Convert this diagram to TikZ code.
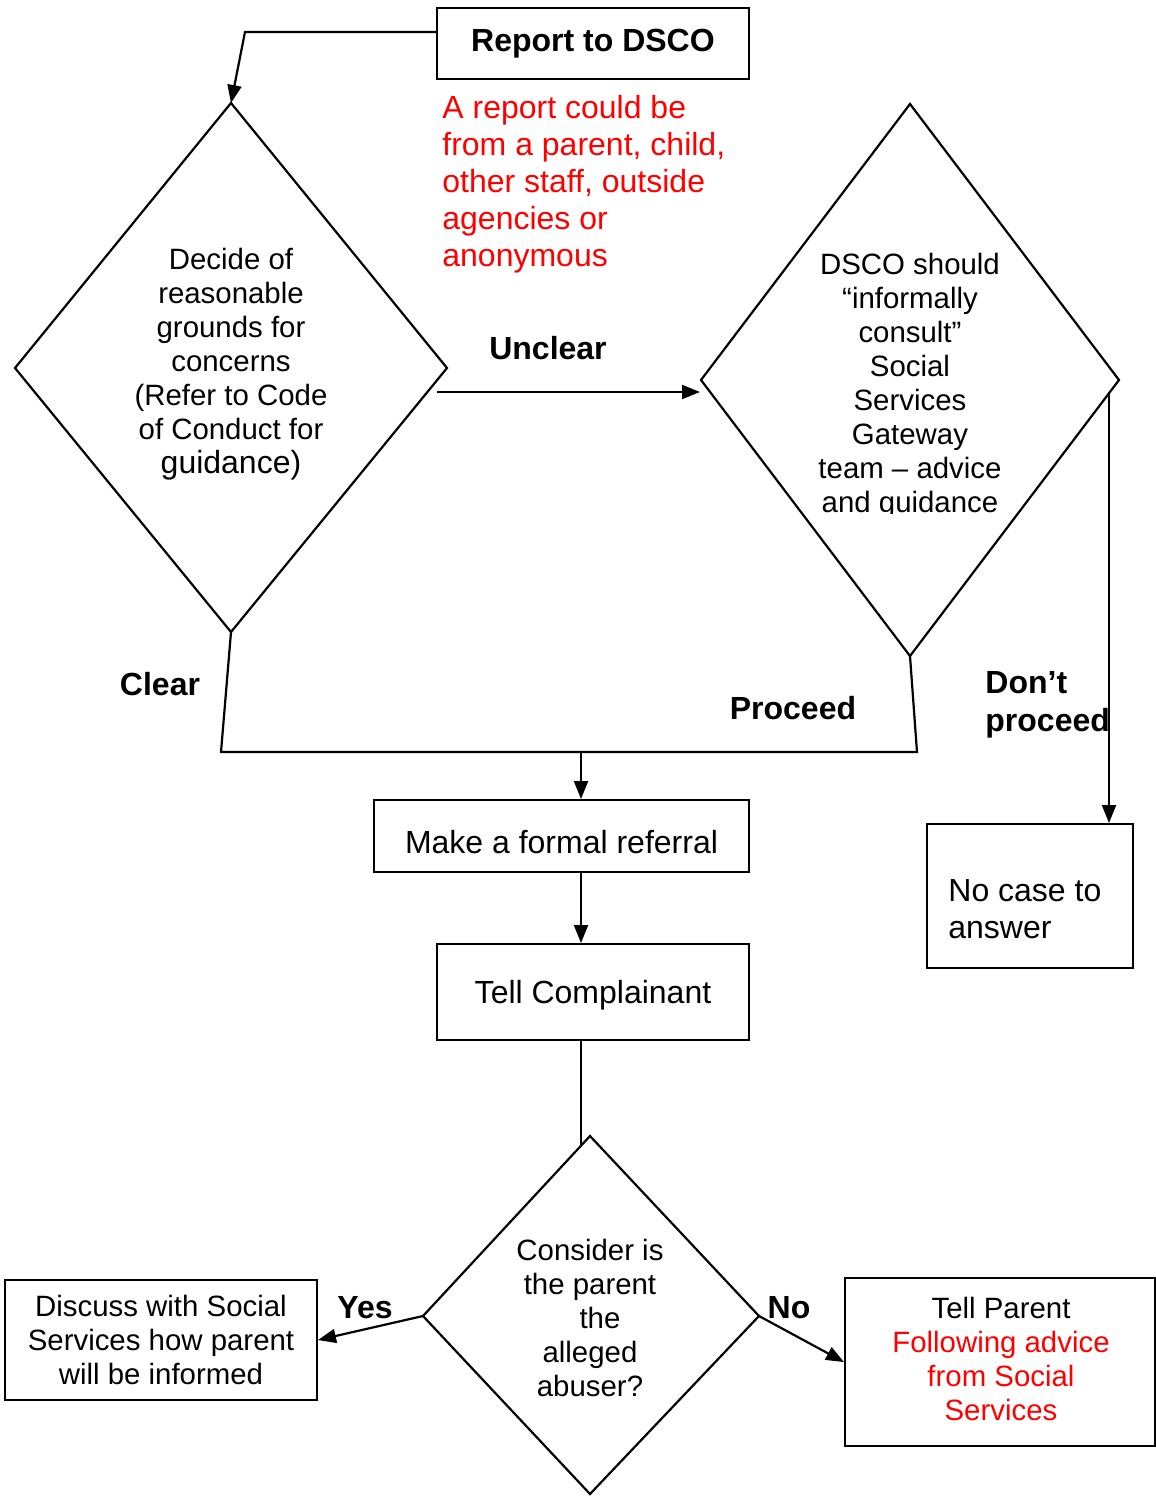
\documentclass[tikz,border=0pt]{standalone}
\usepackage{fontspec}
\setmainfont{Liberation Sans}
\usetikzlibrary{arrows.meta}
\definecolor{redtxt}{RGB}{255,0,0}
\tikzset{
  conn/.style={line width=1.1pt},
  arr/.style={conn,-{Triangle[length=9pt,width=7pt]}},
  boxn/.style={draw,line width=1pt,inner sep=0pt,align=center,font=\fontsize{16}{17}\selectfont},
  small/.style={font=\fontsize{14.7}{17}\selectfont},
  body/.style={inner sep=0pt,align=center,font=\fontsize{14.7}{17}\selectfont},
  lbl/.style={inner sep=0pt,align=left,font=\fontsize{16}{19}\selectfont\bfseries},
  redn/.style={inner sep=0pt,align=left,text=redtxt,font=\fontsize{16}{18.5}\selectfont}
}
\begin{document}
\begin{tikzpicture}[x=0.5pt,y=-0.5pt]
\useasboundingbox (0,0) rectangle (1156,1496);
% boxes
\node[boxn,minimum width=156pt,minimum height=35.5pt] (report) at (593,43.5) {\bfseries Report to DSCO};
\node[boxn,minimum width=187.5pt,minimum height=36pt,text height=18pt,text depth=0.6pt] (referral) at (561.5,836) {Make a formal referral};
\node[boxn,minimum width=156pt,minimum height=48pt,text height=12pt,text depth=0.6pt] (tell) at (593,992) {Tell Complainant};
\node[draw,line width=1pt,minimum width=103pt,minimum height=72pt,inner sep=0pt] (nocase) at (1030,896) {};
\node[inner sep=0pt,align=left,anchor=west,font=\fontsize{16}{18.5}\selectfont] (nocasetxt) at (948,909) {No case to\\answer};
\node[boxn,small,minimum width=156pt,minimum height=60pt] (discuss) at (161,1340) {Discuss with Social\\Services how parent\\will be informed};
\node[boxn,small,minimum width=155pt,minimum height=84pt] (parent) at (1000,1362) {};
\node[body] (parenttxt) at (1001,1359) {Tell Parent\\\textcolor{redtxt}{Following advice}\\\textcolor{redtxt}{from Social}\\\textcolor{redtxt}{Services}};
% diamonds
\coordinate (ltop) at (231,103);
\coordinate (lleft) at (15,368);
\coordinate (lright) at (447,368);
\coordinate (lbot) at (231,632);
\draw[conn] (ltop) -- (lright) -- (lbot) -- (lleft) -- cycle;
\node[body] (ltxt) at (231,364) {Decide of\\reasonable\\grounds for\\concerns\\(Refer to Code\\of Conduct for\\{\fontsize{16}{17}\selectfont guidance)}};
\coordinate (rtop) at (910,104);
\coordinate (rleft) at (701,380);
\coordinate (rright) at (1119,380);
\coordinate (rbot) at (910,656);
\draw[conn] (rtop) -- (rright) -- (rbot) -- (rleft) -- cycle;
\begin{scope}
\clip (700,230) rectangle (1120,513);
\node[body] (rtxt) at (910,386) {DSCO should\\“informally\\consult”\\Social\\Services\\Gateway\\team – advice\\and guidance};
\end{scope}
\coordinate (btop) at (590,1136);
\coordinate (bleft) at (423,1316);
\coordinate (bright) at (759,1316);
\coordinate (bbot) at (590,1494);
\draw[conn] (btop) -- (bright) -- (bbot) -- (bleft) -- cycle;
\node[body] (btxt) at (590,1318) {Consider is\\the parent\\\hspace*{10pt}the\\alleged\\abuser?};
% red note
\node[redn,anchor=north west] (note) at (442,95) {A report could be\\from a parent, child,\\other staff, outside\\agencies or\\anonymous};
% labels
\node[lbl] (unclear) at (548,348) {Unclear};
\node[lbl] (clear) at (160,684) {Clear};
\node[lbl] (proceed) at (793,708) {Proceed};
\node[lbl,anchor=west] (dont) at (985,705) {Don’t\\proceed};
\node[lbl] (yes) at (365,1308) {Yes};
\node[lbl] (no) at (789,1308) {No};
% connectors
\coordinate (r1) at (245,32);
\draw[arr] (report.west |- r1) -- (r1) -- (ltop);
\coordinate (ua) at (437,392);
\coordinate (ub) at (700,392);
\draw[arr] (ua) -- (ub);
\coordinate (dp) at (1109,393);
\draw[arr] (dp) -- (nocase.north -| dp);
\coordinate (m1) at (221,752);
\coordinate (m2) at (917,752);
\coordinate (mc) at (581,752);
\draw[conn] (lbot) -- (m1) -- (m2) -- (rbot);
\draw[arr] (mc) -- (referral.north -| mc);
\draw[arr] (referral.south -| mc) -- (tell.north -| mc);
\coordinate (be) at (581,1145.7);
\draw[conn] (tell.south -| mc) -- (be);
\draw[arr] (bleft) -- (discuss.east);
\draw[arr] (bright) -- (parent.west);
\end{tikzpicture}
\end{document}
